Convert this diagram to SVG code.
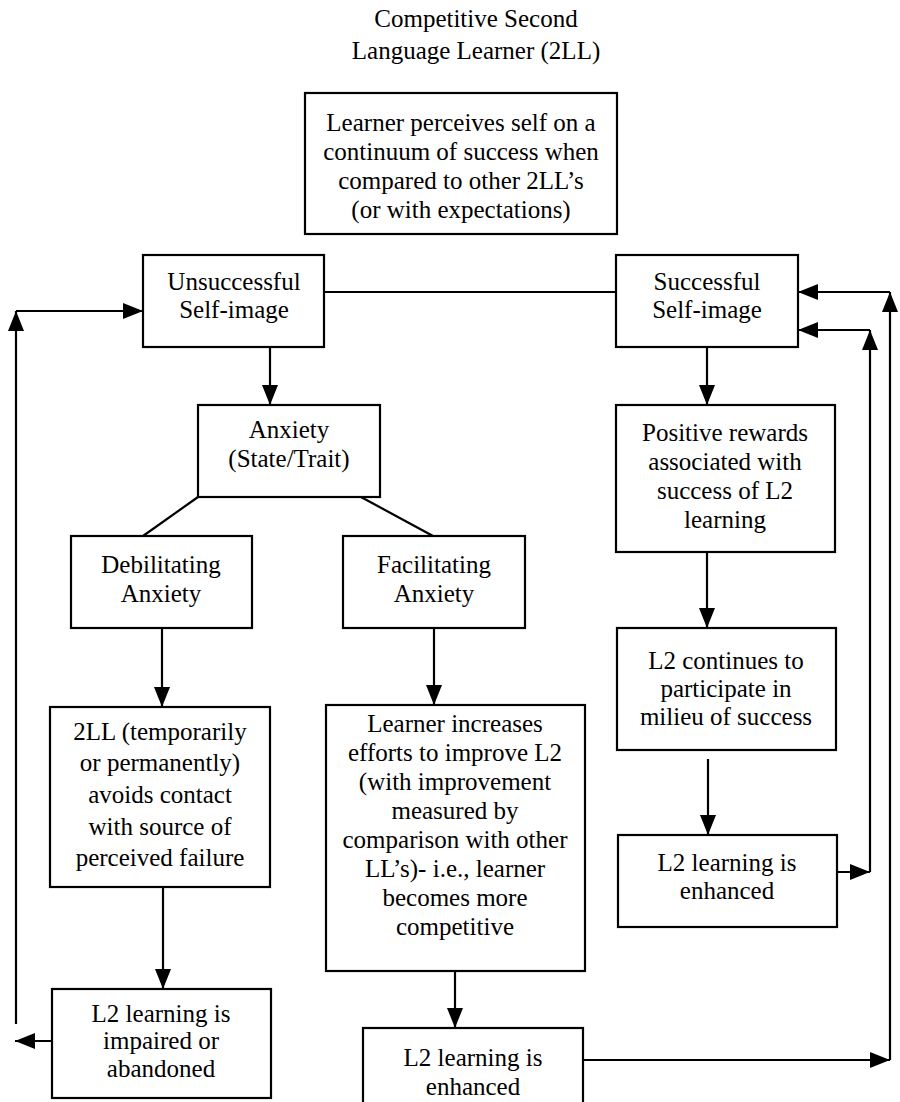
<svg xmlns="http://www.w3.org/2000/svg" width="900" height="1102" viewBox="0 0 900 1102">
<style>
.box{fill:#fff;stroke:#000;stroke-width:2.2}
.t{font-family:'Liberation Serif','Times New Roman','DejaVu Serif',serif;font-size:25px;fill:#000;text-anchor:middle}
.c{fill:none;stroke:#000;stroke-width:2.2}
.a{fill:none;stroke:#000;stroke-width:2.2;marker-end:url(#ah)}
</style>
<defs>
<marker id="ah" viewBox="0 0 20 16" refX="20" refY="8" markerWidth="20" markerHeight="16" markerUnits="userSpaceOnUse" orient="auto"><path d="M0,0 L20,8 L0,16 z" fill="#000"/></marker>
</defs>
<rect width="900" height="1102" fill="#fff"/>
<g id="title">
<text class="t" x="476" y="27">Competitive Second</text>
<text class="t" x="476" y="59">Language Learner (2LL)</text>
</g>
<g id="connectors">
<path class="c" d="M324,292 H616"/>
<path class="a" d="M270,347 V405"/>
<path class="c" d="M198,497 L143,536"/>
<path class="c" d="M361,497 L433,536"/>
<path class="a" d="M162,628 V707"/>
<path class="a" d="M434,628 V705"/>
<path class="a" d="M163,887 V989"/>
<path class="a" d="M455,971 V1028"/>
<path class="a" d="M707,347 V405"/>
<path class="a" d="M707,552 V628"/>
<path class="a" d="M708,759 V835"/>
<path class="a" d="M52,1041 H15"/>
<path class="a" d="M16,1024 V311"/>
<path class="a" d="M16,311 H143"/>
<path class="a" d="M837,872 H870"/>
<path class="a" d="M870,872 V330"/>
<path class="a" d="M870,330 H798"/>
<path class="a" d="M583,1060 H890"/>
<path class="a" d="M890,1060 V292"/>
<path class="a" d="M890,292 H798"/>
</g>
<g id="perceives">
<rect class="box" x="305" y="93" width="312" height="141"/>
<text class="t" x="461" y="131">Learner perceives self on a</text>
<text class="t" x="461" y="160">continuum of success when</text>
<text class="t" x="461" y="189">compared to other 2LL’s</text>
<text class="t" x="461" y="218">(or with expectations)</text>
</g>
<g id="unsuccessful">
<rect class="box" x="143" y="255" width="181" height="92"/>
<text class="t" x="234" y="290">Unsuccessful</text>
<text class="t" x="234" y="318">Self-image</text>
</g>
<g id="successful">
<rect class="box" x="616" y="255" width="182" height="92"/>
<text class="t" x="707" y="290">Successful</text>
<text class="t" x="707" y="318">Self-image</text>
</g>
<g id="anxiety">
<rect class="box" x="198" y="405" width="182" height="92"/>
<text class="t" x="289" y="438">Anxiety</text>
<text class="t" x="289" y="467">(State/Trait)</text>
</g>
<g id="debilitating">
<rect class="box" x="71" y="536" width="181" height="92"/>
<text class="t" x="161" y="573">Debilitating</text>
<text class="t" x="161" y="602">Anxiety</text>
</g>
<g id="facilitating">
<rect class="box" x="343" y="536" width="182" height="92"/>
<text class="t" x="434" y="573">Facilitating</text>
<text class="t" x="434" y="602">Anxiety</text>
</g>
<g id="avoids">
<rect class="box" x="50" y="707" width="220" height="180"/>
<text class="t" x="160" y="740">2LL (temporarily</text>
<text class="t" x="160" y="771">or permanently)</text>
<text class="t" x="160" y="803">avoids contact</text>
<text class="t" x="160" y="835">with source of</text>
<text class="t" x="160" y="866">perceived failure</text>
</g>
<g id="increases">
<rect class="box" x="326" y="705" width="259" height="266"/>
<text class="t" x="455" y="732">Learner increases</text>
<text class="t" x="455" y="761">efforts to improve L2</text>
<text class="t" x="455" y="790">(with improvement</text>
<text class="t" x="455" y="819">measured by</text>
<text class="t" x="455" y="848">comparison with other</text>
<text class="t" x="455" y="877">LL’s)- i.e., learner</text>
<text class="t" x="455" y="906">becomes more</text>
<text class="t" x="455" y="935">competitive</text>
</g>
<g id="impaired">
<rect class="box" x="52" y="989" width="219" height="109"/>
<text class="t" x="161" y="1022">L2 learning is</text>
<text class="t" x="161" y="1049">impaired or</text>
<text class="t" x="161" y="1077">abandoned</text>
</g>
<g id="enhanced-mid">
<rect class="box" x="363" y="1028" width="220" height="90"/>
<text class="t" x="473" y="1066">L2 learning is</text>
<text class="t" x="473" y="1095">enhanced</text>
</g>
<g id="rewards">
<rect class="box" x="616" y="405" width="219" height="147"/>
<text class="t" x="725" y="441">Positive rewards</text>
<text class="t" x="725" y="470">associated with</text>
<text class="t" x="725" y="499">success of L2</text>
<text class="t" x="725" y="528">learning</text>
</g>
<g id="continues">
<rect class="box" x="617" y="628" width="219" height="122"/>
<text class="t" x="726" y="669">L2 continues to</text>
<text class="t" x="726" y="697">participate in</text>
<text class="t" x="726" y="725">milieu of success</text>
</g>
<g id="enhanced-right">
<rect class="box" x="618" y="835" width="219" height="92"/>
<text class="t" x="727" y="871">L2 learning is</text>
<text class="t" x="727" y="899">enhanced</text>
</g>
</svg>
